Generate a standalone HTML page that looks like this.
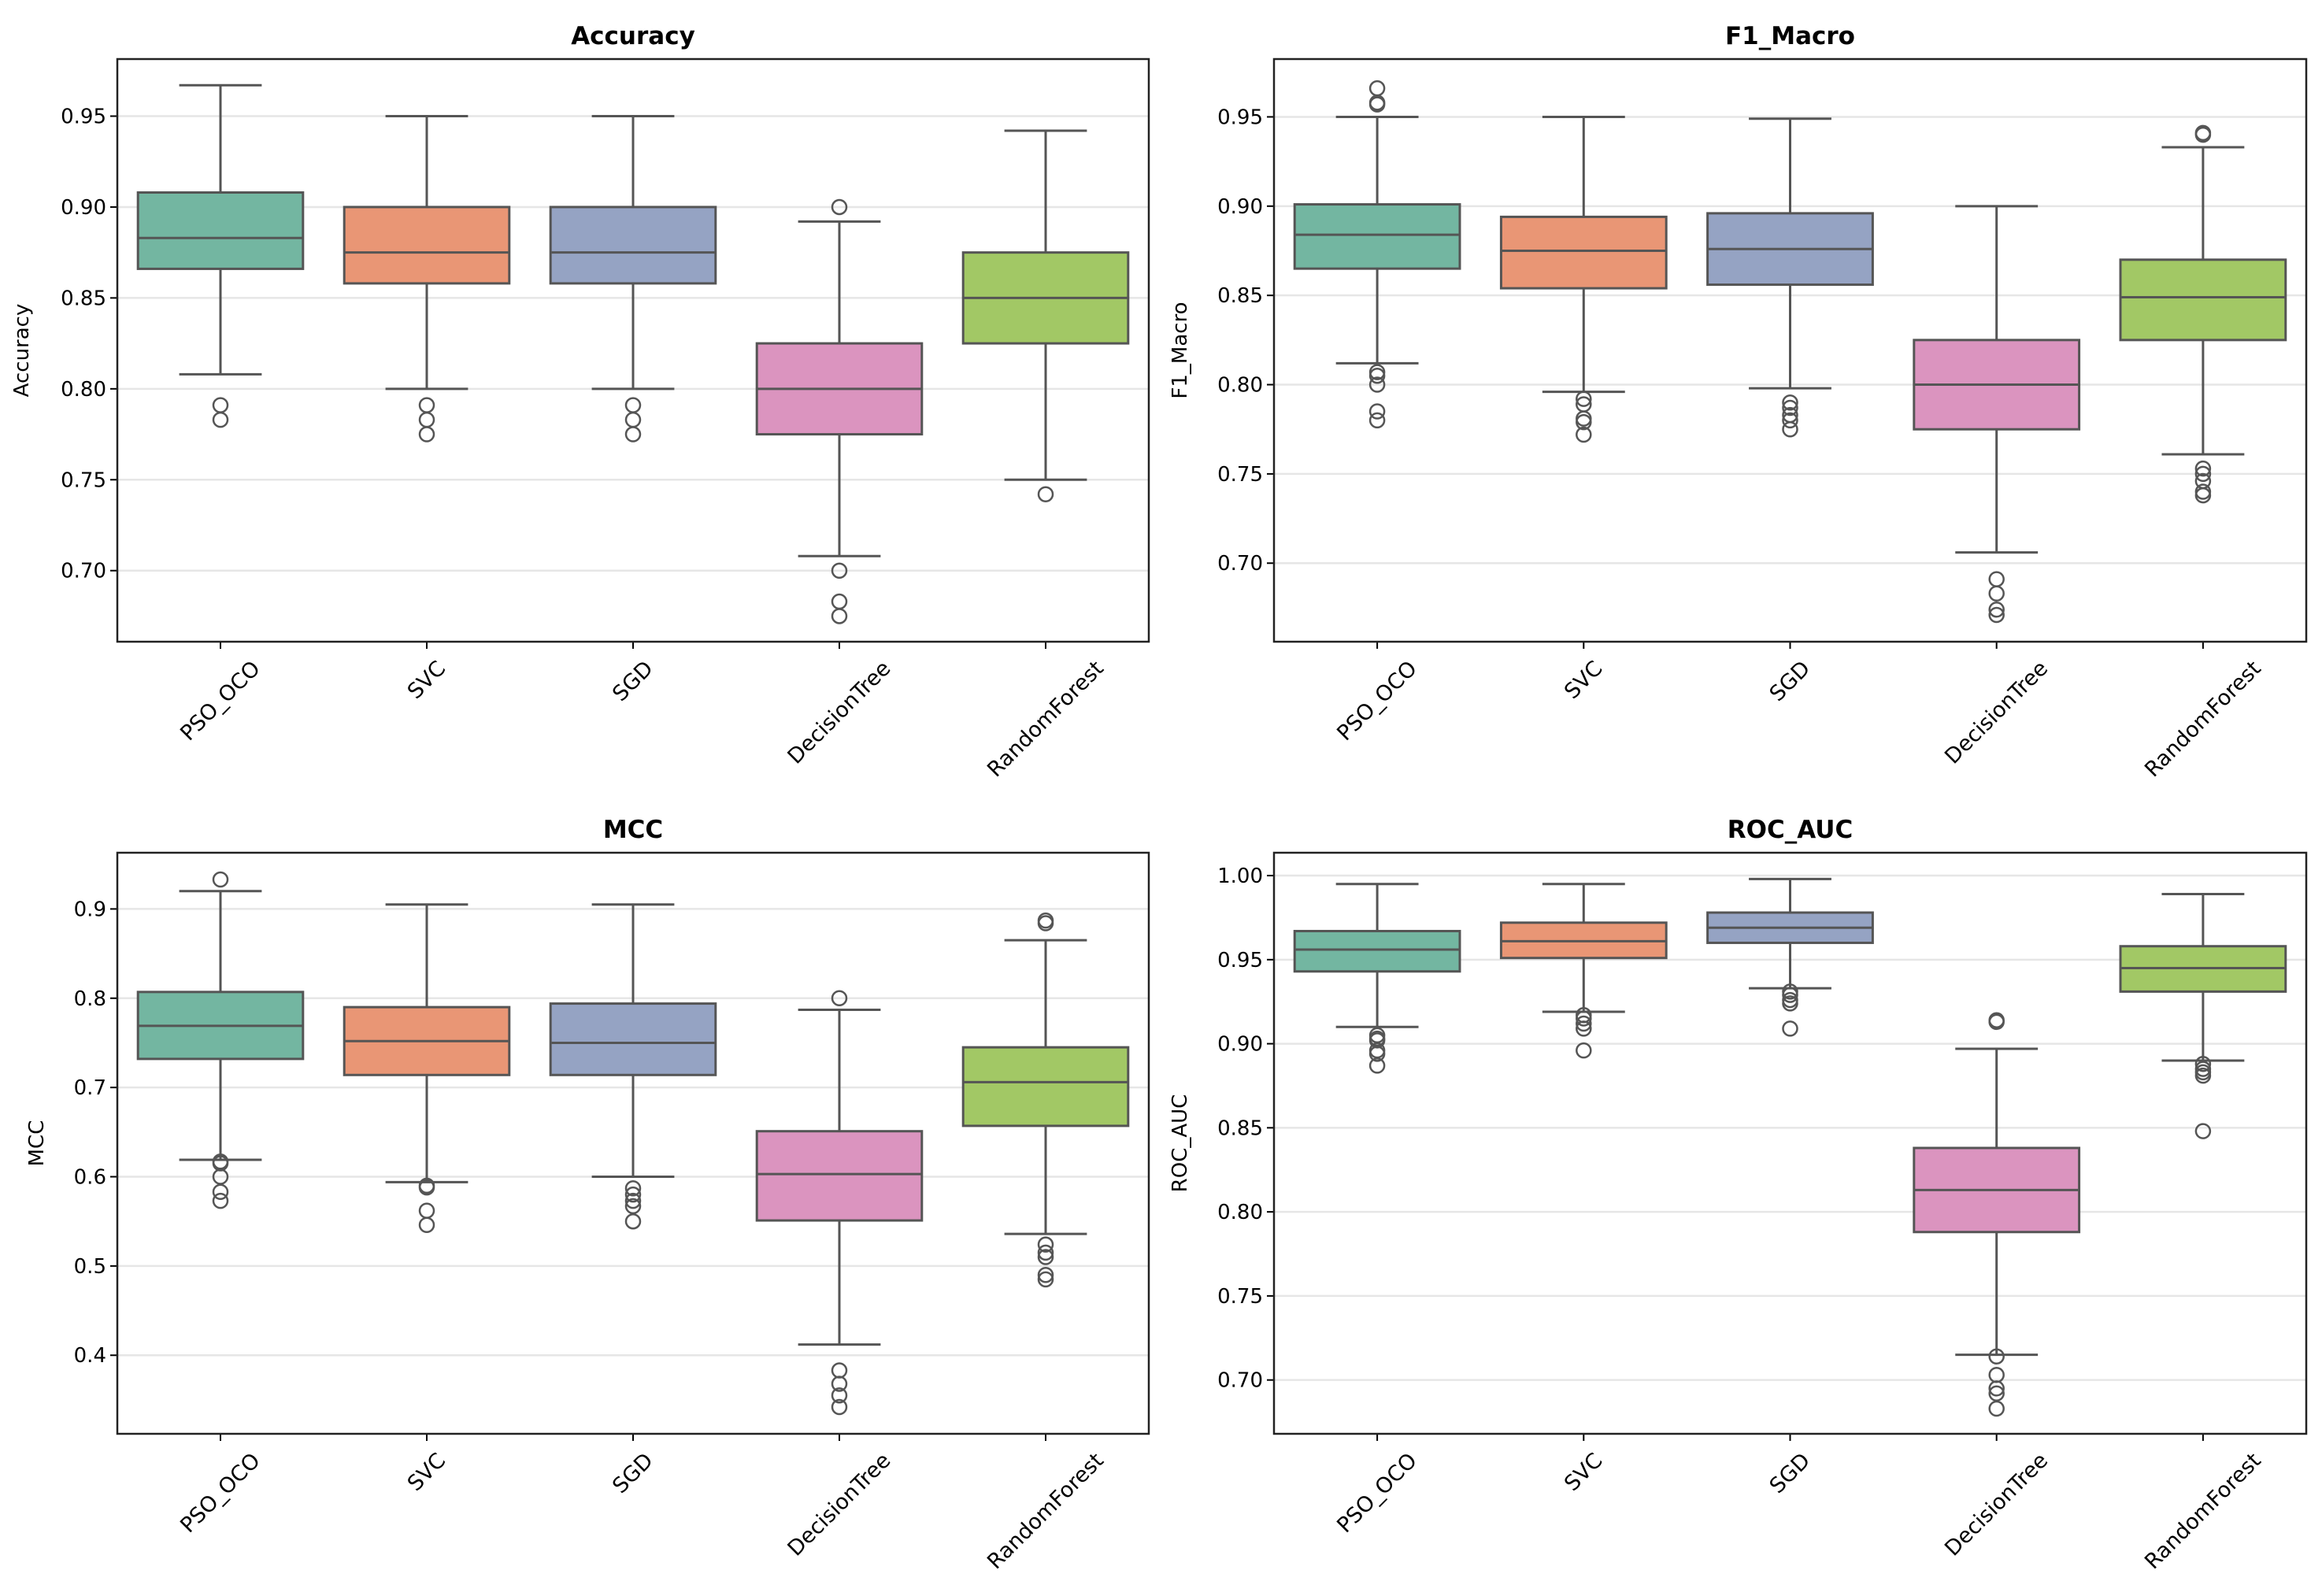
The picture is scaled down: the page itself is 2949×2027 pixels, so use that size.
<!DOCTYPE html>
<html><head><meta charset="utf-8">
<style>
html,body{margin:0;padding:0;background:#fff;}
svg{display:block;font-family:"DejaVu Sans","Liberation Sans",sans-serif;}
</style></head>
<body>
<svg id="fig" width="2949" height="2027" viewBox="0 0 2949 2027" xmlns="http://www.w3.org/2000/svg"></svg>
<script>
const categories = ["PSO_OCO","SVC","SGD","DecisionTree","RandomForest"];
const colors = ["#73b6a1","#e99675","#95a3c3","#db94bf","#a2c865"];
// [whislo, q1, med, q3, whishi]
const accuracyStats = [[0.808,0.866,0.883,0.908,0.967],[0.800,0.858,0.875,0.900,0.950],[0.800,0.858,0.875,0.900,0.950],[0.708,0.775,0.800,0.825,0.892],[0.750,0.825,0.850,0.875,0.942]];
const accuracyOutliers = [[0.791,0.783],[0.791,0.783,0.775],[0.791,0.783,0.775],[0.900,0.700,0.683,0.675],[0.742]];
const f1Stats = [[0.812,0.865,0.884,0.901,0.950],[0.796,0.854,0.875,0.894,0.950],[0.798,0.856,0.876,0.896,0.949],[0.706,0.775,0.800,0.825,0.900],[0.761,0.825,0.849,0.870,0.933]];
const f1Outliers = [[0.966,0.958,0.957,0.807,0.805,0.800,0.785,0.780],[0.792,0.789,0.781,0.779,0.772],[0.790,0.787,0.783,0.780,0.775],[0.691,0.683,0.674,0.671],[0.941,0.940,0.753,0.750,0.746,0.740,0.738]];
const mccStats = [[0.619,0.732,0.769,0.807,0.920],[0.594,0.714,0.752,0.790,0.905],[0.600,0.714,0.750,0.794,0.905],[0.412,0.551,0.603,0.651,0.787],[0.536,0.657,0.706,0.745,0.865]];
const mccOutliers = [[0.933,0.617,0.615,0.600,0.583,0.573],[0.590,0.588,0.562,0.546],[0.587,0.580,0.573,0.567,0.550],[0.800,0.383,0.368,0.355,0.342],[0.887,0.884,0.524,0.515,0.510,0.490,0.485]];
const rocStats = [[0.910,0.943,0.956,0.967,0.995],[0.919,0.951,0.961,0.972,0.995],[0.933,0.960,0.969,0.978,0.998],[0.715,0.788,0.813,0.838,0.897],[0.890,0.931,0.945,0.958,0.989]];
const rocOutliers = [[0.905,0.903,0.902,0.896,0.894,0.887],[0.917,0.915,0.912,0.909,0.896],[0.931,0.929,0.926,0.924,0.909],[0.914,0.913,0.714,0.703,0.695,0.692,0.683],[0.888,0.885,0.883,0.881,0.848]];
const accTicks = [0.70,0.75,0.80,0.85,0.90,0.95];
const f1Ticks = [0.70,0.75,0.80,0.85,0.90,0.95];
const mccTicks = [0.4,0.5,0.6,0.7,0.8,0.9];
const rocTicks = [0.70,0.75,0.80,0.85,0.90,0.95,1.00];

const panels = [
 {name:"accuracy",title:"Accuracy",ylab:"Accuracy",x0:149,x1:1459,y0:75,y1:815,dmin:0.6609,dmax:0.9814,ticks:accTicks,dec:2,stats:accuracyStats,out:accuracyOutliers,ylx:36},
 {name:"f1-macro",title:"F1_Macro",ylab:"F1_Macro",x0:1618,x1:2929,y0:75,y1:815,dmin:0.656,dmax:0.9824,ticks:f1Ticks,dec:2,stats:f1Stats,out:f1Outliers,ylx:1507},
 {name:"mcc",title:"MCC",ylab:"MCC",x0:149,x1:1459,y0:1083,y1:1821,dmin:0.312,dmax:0.963,ticks:mccTicks,dec:1,stats:mccStats,out:mccOutliers,ylx:55},
 {name:"roc-auc",title:"ROC_AUC",ylab:"ROC_AUC",x0:1618,x1:2929,y0:1083,y1:1821,dmin:0.668,dmax:1.0136,ticks:rocTicks,dec:2,stats:rocStats,out:rocOutliers,ylx:1507}
];
const NS="http://www.w3.org/2000/svg";
const fig=document.getElementById('fig');
function mk(tag,attrs,parent,text){const e=document.createElementNS(NS,tag);for(const k in attrs)e.setAttribute(k,attrs[k]);if(text!==undefined)e.textContent=text;parent.appendChild(e);return e;}
const EDGE="#555555";
panels.forEach(p=>{
 const g=mk('g',{},fig);
 
 
 const yS=v=>p.y1-(v-p.dmin)/(p.dmax-p.dmin)*(p.y1-p.y0);
 const band=(p.x1-p.x0)/categories.length;
 const xS=i=>p.x0+(i+0.5)*band;
 p.ticks.forEach(t=>{
  const gl=mk('line',{x1:p.x0,x2:p.x1,y1:yS(t),y2:yS(t),stroke:"#e6e6e6","stroke-width":2.5},g);
  
  
 });
 categories.forEach((c,i)=>{
  const s=p.stats[i];const cx=xS(i);const bw=band*0.8;const cap=bw/2;
  const bg=mk('g',{},g);
  
  
  mk('line',{x1:cx,x2:cx,y1:yS(s[0]),y2:yS(s[1]),stroke:EDGE,"stroke-width":3},bg);
  mk('line',{x1:cx,x2:cx,y1:yS(s[3]),y2:yS(s[4]),stroke:EDGE,"stroke-width":3},bg);
  mk('line',{x1:cx-cap/2,x2:cx+cap/2,y1:yS(s[0]),y2:yS(s[0]),stroke:EDGE,"stroke-width":3},bg);
  mk('line',{x1:cx-cap/2,x2:cx+cap/2,y1:yS(s[4]),y2:yS(s[4]),stroke:EDGE,"stroke-width":3},bg);
  mk('rect',{x:cx-bw/2,y:yS(s[3]),width:bw,height:yS(s[1])-yS(s[3]),fill:colors[i],stroke:EDGE,"stroke-width":3},bg);
  mk('line',{x1:cx-bw/2,x2:cx+bw/2,y1:yS(s[2]),y2:yS(s[2]),stroke:EDGE,"stroke-width":3},bg);
  p.out[i].forEach(v=>{
   const o=mk('circle',{cx:cx,cy:yS(v),r:9,fill:"none",stroke:EDGE,"stroke-width":2.5},bg);
   
   
  });
  mk('line',{x1:cx,x2:cx,y1:p.y1,y2:p.y1+9,stroke:"#000","stroke-width":2},g);
  const tl=mk('text',{x:cx,y:0,"font-size":27,"text-anchor":"middle","dominant-baseline":"central",fill:"#000"},g,c);
  
  
  const L=tl.getComputedTextLength();
  const h=27;
  const cyL=p.y1+20+(L+h)/Math.SQRT2/2;
  tl.setAttribute('y',cyL);
  tl.setAttribute('transform',`rotate(-45 ${cx} ${cyL})`);
 });
 p.ticks.forEach(t=>{
  mk('line',{x1:p.x0-9,x2:p.x0,y1:yS(t),y2:yS(t),stroke:"#000","stroke-width":2},g);
  const yl=mk('text',{x:p.x0-14,y:yS(t)+9,"font-size":26,"text-anchor":"end",fill:"#000"},g,t.toFixed(p.dec));
  
  
 });
 const fr=mk('rect',{x:p.x0,y:p.y0,width:p.x1-p.x0,height:p.y1-p.y0,fill:"none",stroke:"#222","stroke-width":2.5},g);
 
 
 const tt=mk('text',{x:(p.x0+p.x1)/2,y:p.y0-19,"font-size":31,"font-weight":"bold","text-anchor":"middle",fill:"#000"},g,p.title);
 
 
 const cy=(p.y0+p.y1)/2;
 const yt=mk('text',{x:p.ylx,y:cy,"font-size":26,"text-anchor":"middle",transform:`rotate(-90 ${p.ylx} ${cy})`,fill:"#000"},g,p.ylab);
 
 
});
</script>
</body></html>
